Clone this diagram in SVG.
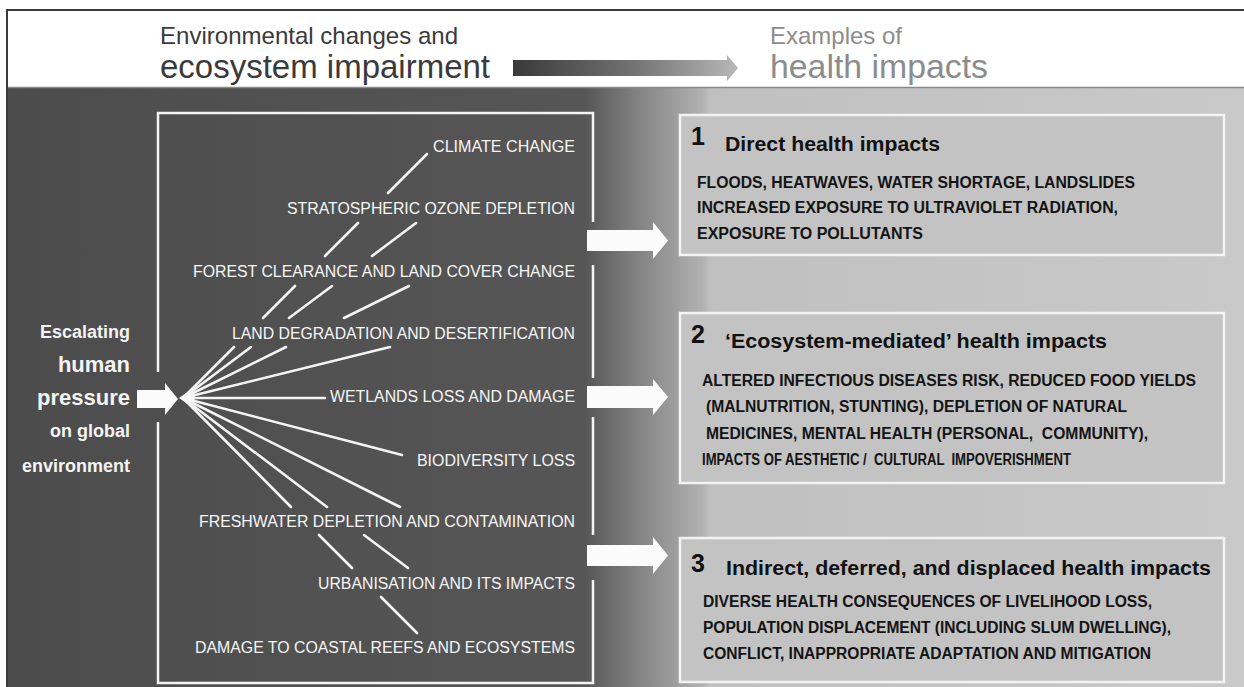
<svg xmlns="http://www.w3.org/2000/svg" width="1244" height="687" viewBox="0 0 1244 687">
  <defs>
    <linearGradient id="bg" gradientUnits="userSpaceOnUse" x1="0" y1="0" x2="1244" y2="0">
      <stop offset="0" stop-color="#4c4c4c"/>
      <stop offset="0.47" stop-color="#565656"/>
      <stop offset="0.51" stop-color="#808080"/>
      <stop offset="0.565" stop-color="#b2b2b2"/>
      <stop offset="0.571" stop-color="#c0c0c0"/>
      <stop offset="1" stop-color="#c9c9c9"/>
    </linearGradient>
    <linearGradient id="harrow" gradientUnits="userSpaceOnUse" x1="513" y1="0" x2="738" y2="0">
      <stop offset="0" stop-color="#3a3a3a"/>
      <stop offset="0.5" stop-color="#6e6e6e"/>
      <stop offset="1" stop-color="#b8b8b8"/>
    </linearGradient>
    <style>
      .f { font-family: "Liberation Sans", Arial, sans-serif; }
      .hd { fill: #3a3a3a; }
      .hl { fill: #8c8c8c; }
      .lab { font-family: "Liberation Sans", Arial, sans-serif; font-size: 16px; fill: #f6f6f6; }
      .pres { font-family: "Liberation Sans", Arial, sans-serif; font-weight: bold; fill: #f4f4f4; text-anchor: end; }
      .fan { stroke: #f4f4f4; stroke-width: 2.6; stroke-linecap: round; fill: none; }
      .warrow { fill: #fbfbfb; }
      .box { fill: #c3c3c3; stroke: #f3f3f3; stroke-width: 2.5; }
      .num { font-family: "Liberation Sans", Arial, sans-serif; font-weight: bold; font-size: 25px; fill: #111; }
      .ttl { font-family: "Liberation Sans", Arial, sans-serif; font-weight: bold; font-size: 20px; fill: #111; }
      .body { font-family: "Liberation Sans", Arial, sans-serif; font-weight: bold; font-size: 16px; fill: #141414; }
    </style>
  </defs>

  <!-- background -->
  <rect x="0" y="0" width="1244" height="687" fill="#ffffff"/>
  <rect x="7" y="87" width="1237" height="600" fill="url(#bg)"/>
  <line x1="7" y1="87.5" x2="1244" y2="87.5" stroke="#8a8a8a" stroke-width="1.5"/>
  <path d="M7,687 V10 H1244" fill="none" stroke="#3a3a3a" stroke-width="2"/>

  <!-- header -->
  <g id="header">
    <text class="f hd" x="160" y="44" font-size="24" textLength="298" lengthAdjust="spacingAndGlyphs">Environmental changes and</text>
    <text class="f hd" x="160" y="78" font-size="33" textLength="330" lengthAdjust="spacingAndGlyphs">ecosystem impairment</text>
    <path d="M513,60 H727 V55 L738,68 L727,81 V76 H513 Z" fill="url(#harrow)"/>
    <text class="f hl" x="770" y="44" font-size="24" textLength="132" lengthAdjust="spacingAndGlyphs">Examples of</text>
    <text class="f hl" x="770" y="78" font-size="33" textLength="218" lengthAdjust="spacingAndGlyphs">health impacts</text>
  </g>

  <!-- left label -->
  <g id="pressure">
    <text class="pres" x="130" y="338" font-size="18">Escalating</text>
    <text class="pres" x="130" y="372" font-size="22">human</text>
    <text class="pres" x="130" y="405" font-size="22">pressure</text>
    <text class="pres" x="130" y="437" font-size="18">on global</text>
    <text class="pres" x="130" y="472" font-size="18">environment</text>
    <polygon class="warrow" points="137,390 165,390 165,383 178,399 165,415 165,408 137,408"/>
  </g>

  <!-- left panel frame -->
  <g id="panel">
    <path d="M158,372 V113 H593 V222 M593,265 V378 M593,417 V535 M593,580 V683 H158 V422" fill="none" stroke="#f4f4f4" stroke-width="2.5"/>
  </g>

  <!-- connectors: fan lines -->
  <g id="connectors">
    <path class="fan" d="M183,398 L234,347 M263,318 L295,286 M325,256 L358,223 M388,193 L427,154"/>
    <path class="fan" d="M183,398 L251,347 M289,318 L332,286 M372,256 L416,223"/>
    <path class="fan" d="M183,398 L286,347 M344,318 L409,286"/>
    <path class="fan" d="M183,398 L390,347"/>
    <path class="fan" d="M183,398 L325,398"/>
    <path class="fan" d="M183,398 L402,455"/>
    <path class="fan" d="M183,398 L400,507"/>
    <path class="fan" d="M183,398 L327,507 M364,535 L408,568"/>
    <path class="fan" d="M183,398 L291,507 M319,535 L352,568 M381,597 L417,633"/>
    <polygon points="179,398 189,391 196,398 189,405" fill="#f8f8f8"/>
  </g>

  <!-- environmental change labels -->
  <g id="labels">
    <text class="lab" x="433" y="152" textLength="142" lengthAdjust="spacingAndGlyphs">CLIMATE CHANGE</text>
    <text class="lab" x="287" y="214" textLength="288" lengthAdjust="spacingAndGlyphs">STRATOSPHERIC OZONE DEPLETION</text>
    <text class="lab" x="193" y="277" textLength="382" lengthAdjust="spacingAndGlyphs">FOREST CLEARANCE AND LAND COVER CHANGE</text>
    <text class="lab" x="232" y="339" textLength="343" lengthAdjust="spacingAndGlyphs">LAND DEGRADATION AND DESERTIFICATION</text>
    <text class="lab" x="330" y="402" textLength="245" lengthAdjust="spacingAndGlyphs">WETLANDS LOSS AND DAMAGE</text>
    <text class="lab" x="417" y="466" textLength="158" lengthAdjust="spacingAndGlyphs">BIODIVERSITY LOSS</text>
    <text class="lab" x="199" y="527" textLength="376" lengthAdjust="spacingAndGlyphs">FRESHWATER DEPLETION AND CONTAMINATION</text>
    <text class="lab" x="318" y="589" textLength="257" lengthAdjust="spacingAndGlyphs">URBANISATION AND ITS IMPACTS</text>
    <text class="lab" x="195" y="653" textLength="380" lengthAdjust="spacingAndGlyphs">DAMAGE TO COASTAL REEFS AND ECOSYSTEMS</text>
  </g>

  <!-- white arrows to impacts -->
  <g id="arrows">
    <path class="warrow" d="M587,230 H653 V222 L668,240.5 L653,259 V251 H587 Z"/>
    <path class="warrow" d="M587,386 H653 V379 L668,397 L653,415 V408 H587 Z"/>
    <path class="warrow" d="M587,545 H653 V537 L668,555.5 L653,574 V566 H587 Z"/>
  </g>

  <!-- box 1 -->
  <g id="box1">
    <rect class="box" x="680" y="115" width="544" height="140"/>
    <text class="num" x="691" y="145">1</text>
    <text class="ttl" x="725" y="151" textLength="215" lengthAdjust="spacingAndGlyphs">Direct health impacts</text>
    <text class="body" x="697" y="188" textLength="438" lengthAdjust="spacingAndGlyphs">FLOODS, HEATWAVES, WATER SHORTAGE, LANDSLIDES</text>
    <text class="body" x="697" y="213" textLength="421" lengthAdjust="spacingAndGlyphs">INCREASED EXPOSURE TO ULTRAVIOLET RADIATION,</text>
    <text class="body" x="697" y="239" textLength="226" lengthAdjust="spacingAndGlyphs">EXPOSURE TO POLLUTANTS</text>
  </g>

  <!-- box 2 -->
  <g id="box2">
    <rect class="box" x="680" y="313" width="544" height="170"/>
    <text class="num" x="691" y="343">2</text>
    <text class="ttl" x="725" y="348" textLength="382" lengthAdjust="spacingAndGlyphs">‘Ecosystem-mediated’ health impacts</text>
    <text class="body" x="702" y="386" textLength="494" lengthAdjust="spacingAndGlyphs">ALTERED INFECTIOUS DISEASES RISK, REDUCED FOOD YIELDS</text>
    <text class="body" x="706" y="412" textLength="421" lengthAdjust="spacingAndGlyphs">(MALNUTRITION, STUNTING), DEPLETION OF NATURAL</text>
    <text class="body" x="706" y="439" textLength="442" lengthAdjust="spacingAndGlyphs" xml:space="preserve">MEDICINES, MENTAL HEALTH (PERSONAL,  COMMUNITY),</text>
    <text class="body" x="702" y="465" textLength="369" lengthAdjust="spacingAndGlyphs" xml:space="preserve">IMPACTS OF AESTHETIC /  CULTURAL  IMPOVERISHMENT</text>
  </g>

  <!-- box 3 -->
  <g id="box3">
    <rect class="box" x="680" y="538" width="544" height="144"/>
    <text class="num" x="691" y="572">3</text>
    <text class="ttl" x="726" y="575" textLength="485" lengthAdjust="spacingAndGlyphs">Indirect, deferred, and displaced health impacts</text>
    <text class="body" x="703" y="607" textLength="449" lengthAdjust="spacingAndGlyphs">DIVERSE HEALTH CONSEQUENCES OF LIVELIHOOD LOSS,</text>
    <text class="body" x="703" y="633" textLength="468" lengthAdjust="spacingAndGlyphs">POPULATION DISPLACEMENT (INCLUDING SLUM DWELLING),</text>
    <text class="body" x="703" y="659" textLength="448" lengthAdjust="spacingAndGlyphs">CONFLICT, INAPPROPRIATE ADAPTATION AND MITIGATION</text>
  </g>
</svg>
